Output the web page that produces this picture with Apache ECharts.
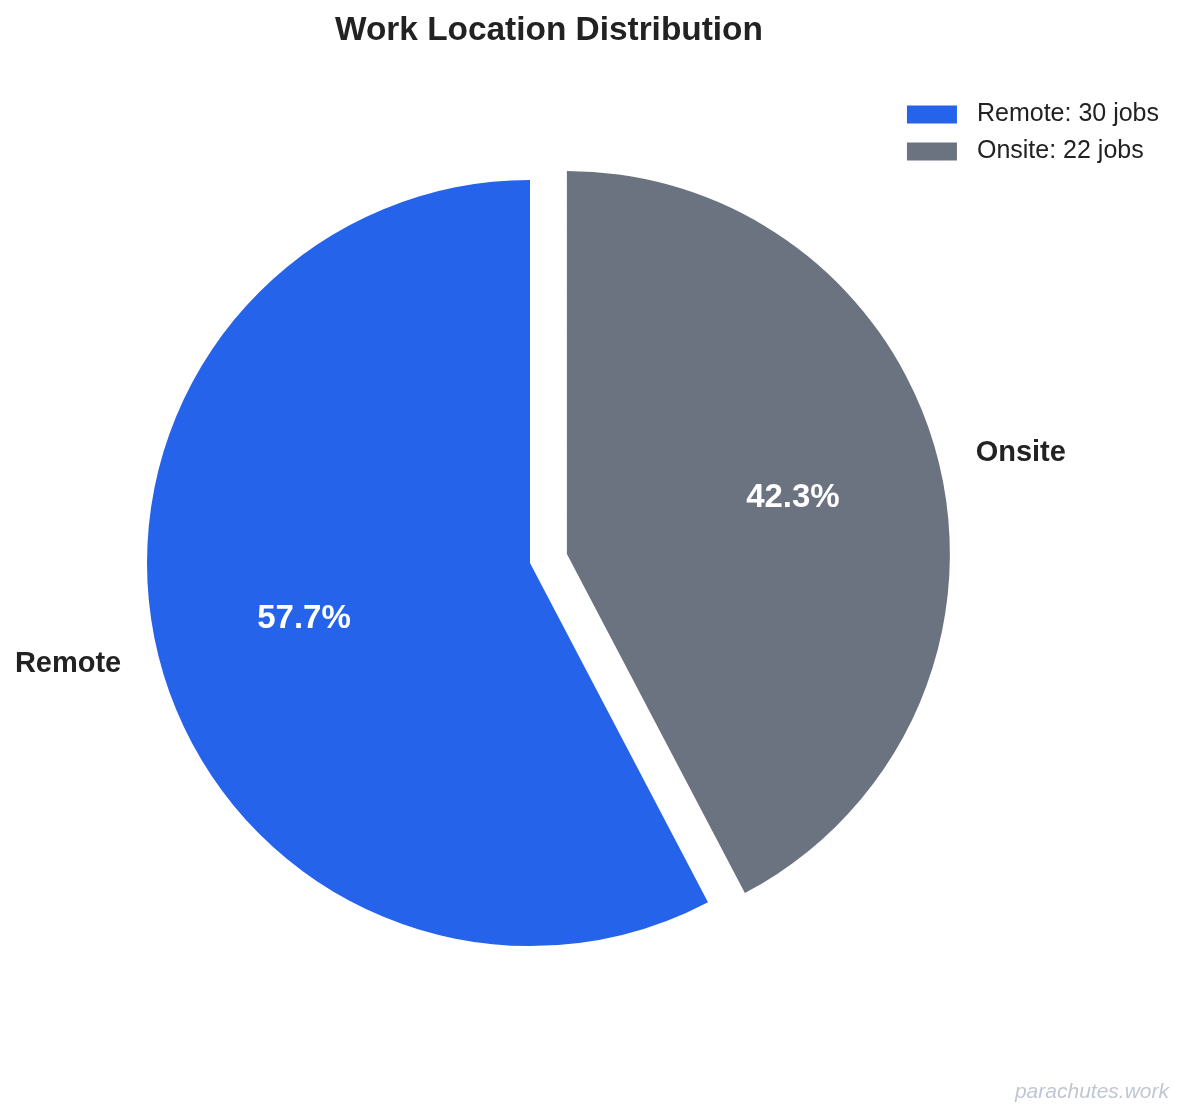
<!DOCTYPE html>
<html>
<head>
<meta charset="utf-8">
<script src="https://cdn.jsdelivr.net/npm/echarts@6/dist/echarts.min.js"></script>
<style>
  html, body { margin: 0; padding: 0; background: #fff; }
  #chart { width: 1184px; height: 1117px; }
</style>
</head>
<body>
<div id="chart"></div>
<script>
var categories = ['Remote', 'Onsite'];
var jobCounts = [30, 22];
var sliceColors = ['#2563eb', '#6b7280'];
var explodedSlice = 'Onsite';

var FONT = '"Liberation Sans", Arial, sans-serif';
var R = 383;

var pieData = categories.map(function (name, i) {
  return {
    name: name,
    value: jobCounts[i],
    selected: name === explodedSlice,
    itemStyle: { color: sliceColors[i] }
  };
});

// overlay that only carries the percentage labels (at 0.6 of the radius)
var pctData = categories.map(function (name, i) {
  return {
    name: name,
    value: jobCounts[i],
    selected: name === explodedSlice
  };
});

var chart = echarts.init(document.getElementById('chart'));
var option = {
  animation: false,
  title: [
    {
      text: 'Work Location Distribution',
      left: 330,
      top: 9,
      textStyle: { fontFamily: FONT, fontSize: 33.4, fontWeight: 'bold', color: '#222222' }
    },
    {
      text: 'parachutes.work',
      right: 10,
      bottom: 9,
      textStyle: { fontFamily: FONT, fontSize: 21, fontStyle: 'italic', fontWeight: 'normal', color: '#c0c6d2' }
    }
  ],
  legend: {
    orient: 'vertical',
    right: 20,
    top: 97,
    icon: 'rect',
    itemWidth: 50,
    itemHeight: 18,
    itemGap: 12,
    selectedMode: false,
    data: categories,
    formatter: function (name) {
      var i = categories.indexOf(name);
      return name + ': ' + jobCounts[i] + ' jobs';
    },
    textStyle: { fontFamily: FONT, fontSize: 25, color: '#222222', padding: [0, 0, 0, 15] }
  },
  series: [
    {
      type: 'pie',
      center: [530, 563],
      radius: [0, R],
      startAngle: 90,
      clockwise: false,
      selectedMode: 'single',
      selectedOffset: 38,
      avoidLabelOverlap: false,
      silent: true,
      label: {
        position: 'outside',
        formatter: '{b}',
        fontFamily: FONT,
        fontSize: 29,
        fontWeight: 'bold',
        color: '#222222',
        distanceToLabelLine: 0
      },
      labelLine: { show: false, length: 38, length2: 0 },
      emphasis: { disabled: true },
      data: pieData
    },
    {
      type: 'pie',
      center: [530, 563],
      radius: [R * 0.2, R],
      startAngle: 90,
      clockwise: false,
      selectedMode: 'single',
      selectedOffset: 38,
      avoidLabelOverlap: false,
      silent: true,
      percentPrecision: 1,
      itemStyle: { color: 'rgba(0,0,0,0)' },
      label: {
        position: 'inside',
        formatter: '{d}%',
        fontFamily: FONT,
        fontSize: 33,
        fontWeight: 'bold',
        color: '#ffffff'
      },
      labelLine: { show: false },
      emphasis: { disabled: true },
      data: pctData
    }
  ]
};
chart.setOption(option);
</script>
</body>
</html>
